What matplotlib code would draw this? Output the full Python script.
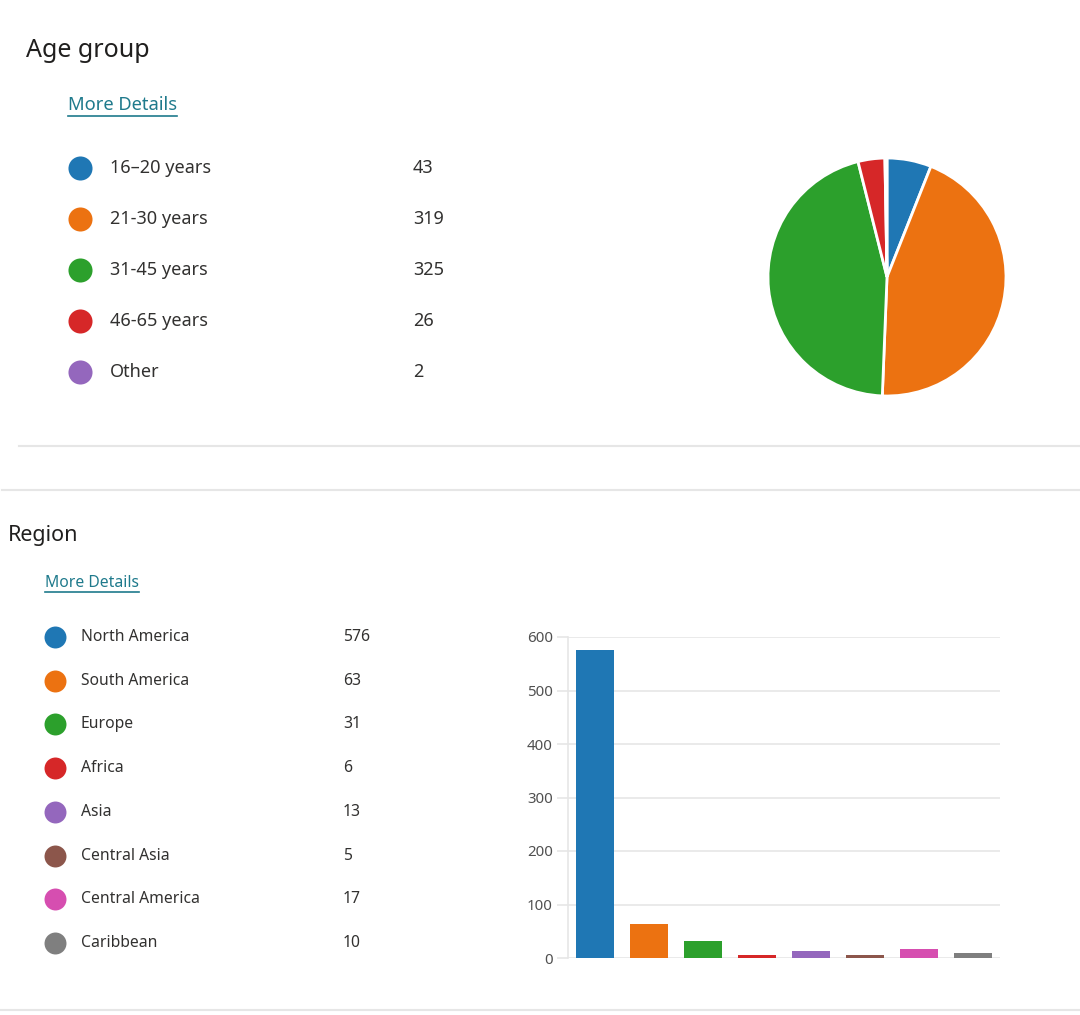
import matplotlib
matplotlib.use('Agg')
import matplotlib.pyplot as plt

# dades
AGE_LABELS = ['16\u201320 years', '21-30 years', '31-45 years', '46-65 years', 'Other']
AGE_VALUES = [43, 319, 325, 26, 2]
AGE_COLORS = ['#1f77b4', '#ec7211', '#2ca02c', '#d62728', '#9467bd']

REGION_LABELS = ['North America', 'South America', 'Europe', 'Africa', 'Asia',
                 'Central Asia', 'Central America', 'Caribbean']
REGION_VALUES = [576, 63, 31, 6, 13, 5, 17, 10]
REGION_COLORS = ['#1f77b4', '#ec7211', '#2ca02c', '#d62728', '#9467bd',
                 '#8c564b', '#d64eb0', '#7f7f7f']

W, H = 1080, 1015
FONT = ['Noto Sans', 'DejaVu Sans']
TEXT_C = '#323130'
LINK_C = '#1f7a8c'
LINE_C = '#e6e6e6'

plt.rcParams['font.family'] = FONT

fig = plt.figure(figsize=(W / 100, H / 100), dpi=100)

# capa de fons amb coordenades en pixels per textos i llegendes
bg = fig.add_axes([0, 0, 1, 1])
bg.set_xlim(0, W)
bg.set_ylim(H, 0)
bg.axis('off')


def link(x, y, size, width):
    bg.text(x, y, 'More Details', fontsize=size, color=LINK_C, va='center', ha='left')
    bg.plot([x, x + width], [y + size * 0.8, y + size * 0.8], color=LINK_C, lw=1.2)


def legend(labels, values, colors, x0, y0, dy, dx_lab, xval, size, dot):
    for i, (lab, val, col) in enumerate(zip(labels, values, colors)):
        y = y0 + i * dy
        bg.scatter([x0], [y], s=dot, color=col, zorder=3, linewidths=0)
        bg.text(x0 + dx_lab, y, lab, fontsize=size, color=TEXT_C, va='center', ha='left')
        bg.text(xval, y, str(val), fontsize=size, color=TEXT_C, va='center', ha='left')


# secció 1: Age group
bg.text(26, 50, 'Age group', fontsize=18, color='#201f1e', va='center', ha='left')
link(68, 105, 13.2, 109)
legend(AGE_LABELS, AGE_VALUES, AGE_COLORS, 80, 168, 51, 30, 413, 13, 300)

# separadors
bg.plot([19, W], [446, 446], color=LINE_C, lw=1.5)
bg.plot([2, W], [490, 490], color=LINE_C, lw=1.5)
bg.plot([0, W], [1010, 1010], color=LINE_C, lw=1.5)

# secció 2: Region
bg.text(8, 535, 'Region', fontsize=15.5, color='#201f1e', va='center', ha='left')
link(45, 583, 11.3, 94)
legend(REGION_LABELS, REGION_VALUES, REGION_COLORS, 55, 637, 43.7, 26, 343, 11.3, 250)

# pastis
ax_pie = fig.add_axes([768 / W, 1 - 396 / H, 238 / W, 238 / H])
ax_pie.pie(AGE_VALUES, colors=AGE_COLORS, startangle=90, counterclock=False,
           wedgeprops={'edgecolor': 'white', 'linewidth': 2})
ax_pie.set_xlim(-1.0, 1.0)
ax_pie.set_ylim(-1.0, 1.0)
ax_pie.set_aspect('equal')

# barres
ax_bar = fig.add_axes([568 / W, 1 - 958 / H, 432 / W, 321 / H])
ax_bar.bar(range(len(REGION_VALUES)), REGION_VALUES, width=0.7, color=REGION_COLORS)
ax_bar.set_xlim(-0.5, len(REGION_VALUES) - 0.5)
ax_bar.set_ylim(0, 600)
ax_bar.set_yticks(range(0, 601, 100))
ax_bar.set_xticks([])
ax_bar.grid(True, axis='y', color=LINE_C, lw=1.2)
ax_bar.set_axisbelow(True)
for s in ['top', 'right', 'bottom']:
    ax_bar.spines[s].set_visible(False)
ax_bar.spines['left'].set_color(LINE_C)
ax_bar.spines['left'].set_linewidth(1.2)
ax_bar.tick_params(axis='y', length=8, width=1.2, color=LINE_C, pad=3,
                   labelsize=10.8, labelcolor='#505050')
ax_bar.patch.set_alpha(0)

fig.savefig('out.png', dpi=100)
